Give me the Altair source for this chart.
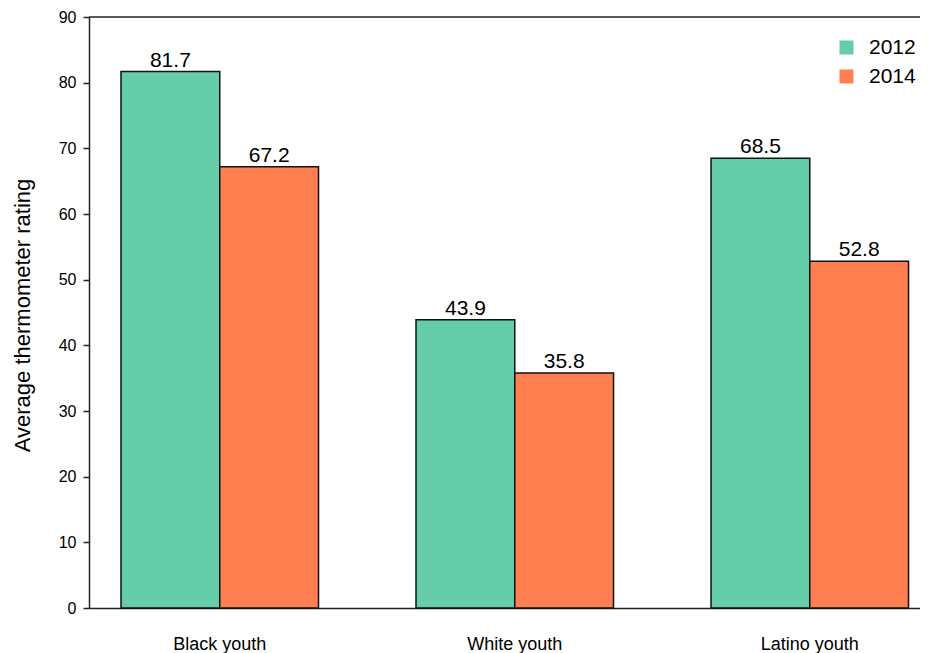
import altair as alt
import pandas as pd

groups = ["Black youth", "White youth", "Latino youth"]
years = ["2012", "2014"]
values_2012 = [81.7, 43.9, 68.5]
values_2014 = [67.2, 35.8, 52.8]
colors = ["#66CDAA", "#FF7F50"]
y_ticks = [0, 10, 20, 30, 40, 50, 60, 70, 80, 90]

rows = []
for g, a, b in zip(groups, values_2012, values_2014):
    rows.append({"group": g, "year": "2012", "value": a})
    rows.append({"group": g, "year": "2014", "value": b})
df = pd.DataFrame(rows)

W, H = 831, 591
FONT = "Liberation Sans"

x_enc = alt.X(
    "group:N",
    sort=groups,
    scale=alt.Scale(paddingInner=0.3305, paddingOuter=0.0737, align=0.736),
    axis=alt.Axis(
        title=None, ticks=False, tickSize=0, labelAngle=0, labelFontSize=18,
        labelFont=FONT, labelColor="black", labelPadding=27,
        domainColor="#222", domainWidth=1.5,
    ),
)
xoff_enc = alt.XOffset("year:N", sort=years, scale=alt.Scale(paddingInner=0, paddingOuter=0))
y_enc = alt.Y(
    "value:Q",
    scale=alt.Scale(domain=[0, 90], nice=False),
    axis=alt.Axis(
        title="Average thermometer rating", values=y_ticks, grid=False,
        tickSize=6, tickColor="#222", tickWidth=1.5,
        labelFontSize=16, labelFont=FONT, labelColor="black", labelPadding=7,
        domainColor="#222", domainWidth=1.5,
        titleFont=FONT, titleFontSize=22, titleFontWeight="normal", titleColor="black",
        titleX=-60, titleY=298, titleBaseline="alphabetic", titleAngle=-90,
    ),
)

base = alt.Chart(df)

bars = base.mark_bar(stroke="#111", strokeWidth=1.5).encode(
    x=x_enc,
    xOffset=xoff_enc,
    y=y_enc,
    color=alt.Color(
        "year:N",
        sort=years,
        scale=alt.Scale(domain=years, range=colors),
        legend=alt.Legend(
            title=None, orient="none", legendX=747, legendY=20,
            symbolType="square", symbolSize=196, symbolStrokeWidth=0,
            symbolOpacity=1, labelFontSize=21, labelFont=FONT, labelColor="black",
            labelOffset=12, rowPadding=7, padding=0,
        ),
    ),
)

labels = base.mark_text(
    baseline="alphabetic", dy=-5, fontSize=21, font=FONT, color="black"
).encode(
    x=alt.X("group:N", sort=groups),
    xOffset=alt.XOffset("year:N", sort=years),
    y=alt.Y("value:Q"),
    text=alt.Text("value:Q", format=".1f"),
)

top_rule = alt.Chart(alt.Data(values=[{"a": 1}])).mark_rule(
    color="#222", strokeWidth=1.5
).encode(x=alt.value(0), x2=alt.value(W), y=alt.value(0))

chart = alt.layer(bars, labels, top_rule).properties(
    width=W,
    height=H,
    autosize=alt.AutoSizeParams(type="none"),
    padding={"left": 81, "top": 9, "right": 0, "bottom": 45},
).configure_view(stroke="transparent")

chart.save("out.html", embed_options={"renderer": "svg", "actions": False})
